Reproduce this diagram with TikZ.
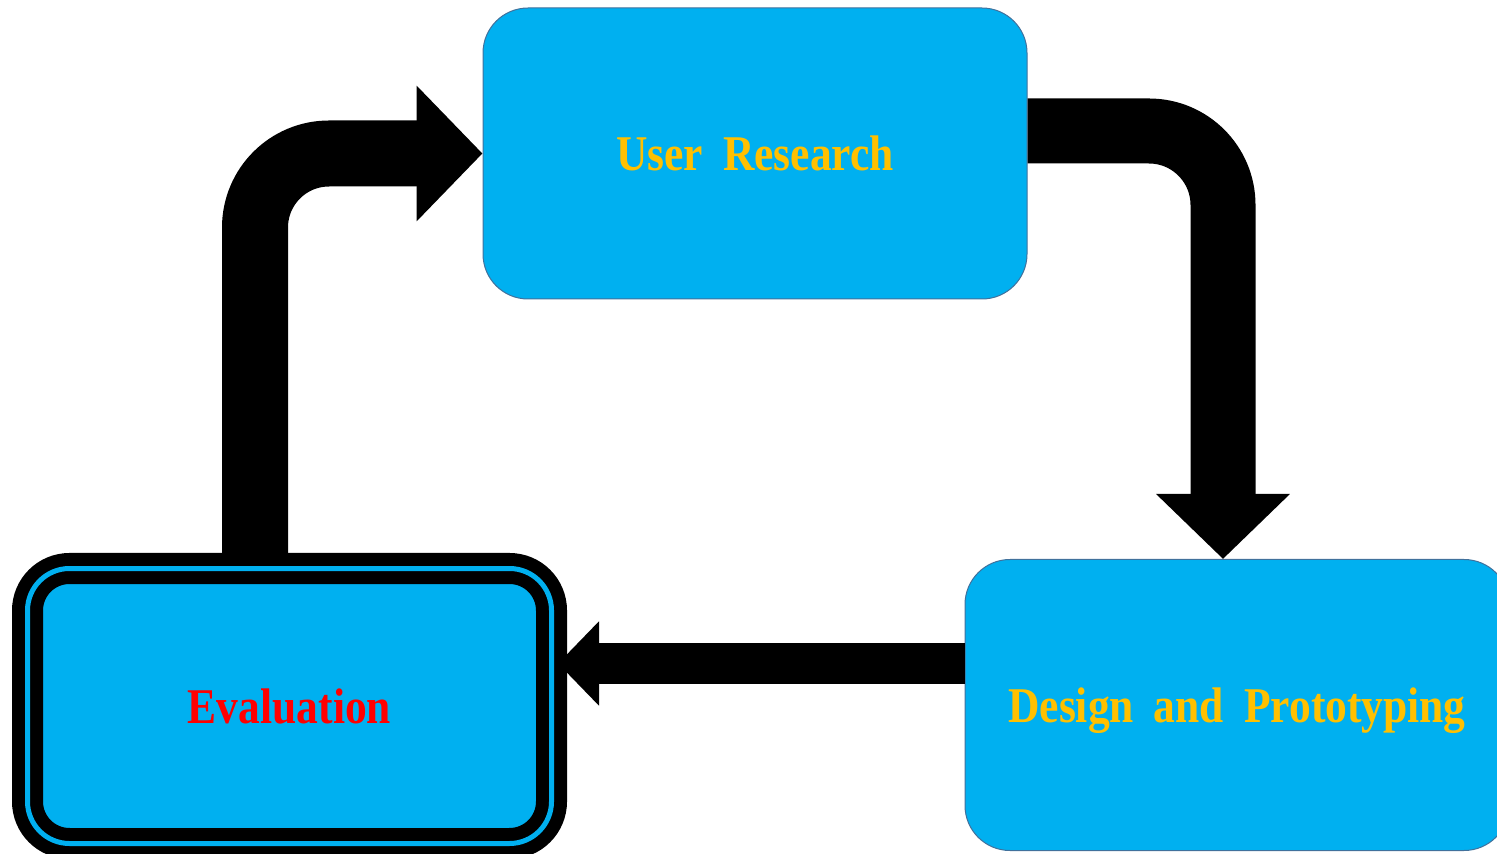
\documentclass[tikz,border=0pt]{standalone}
\usepackage{fontspec}
\setmainfont{Liberation Serif}[FakeStretch=0.87]
\usetikzlibrary{arrows.meta,positioning,calc}
\definecolor{boxblue}{HTML}{00B0F0}
\definecolor{rimblue}{HTML}{41719C}
\definecolor{labelgold}{HTML}{FFC000}
\newcommand{\gap}{\hspace{0.4em}}
\tikzset{%
	% Specifications for style of nodes:
	base/.style = {rectangle, rounded corners=22.5pt, draw=rimblue,
		line width=0.5pt, fill=boxblue,
		minimum width=272pt, minimum height=145.5pt,
		text centered, text depth=0pt,
		font=\bfseries\fontsize{25}{30}\selectfont},
	stage/.style = {base, text=labelgold},
	stageCurrent/.style = {base, rounded corners=21pt, draw=black,
		line width=6.5pt, double=boxblue, double distance=2.5pt,
		minimum width=262pt, minimum height=137.5pt, text=red},
	% Specifications for the block arrows between stages:
	blockarrow/.style = {draw=black, line width=#1, rounded corners=37pt,
		-{Triangle[width=0pt 2, length=0pt 1]}},
}

\begin{document}
\begin{tikzpicture}[x=0.5pt, y=-0.5pt]
\useasboundingbox (0,0) rectangle (1497,854);
\clip (0,0) rectangle (1497,854);

%% Specification of nodes (position, etc.)
\node (research)   [stage]        at (755,153.5) {User\gap Research};
\node (design)     [stage]        at (1237,705)  {Design\gap and\gap Prototyping};
\node (evaluation) [stageCurrent] at (289.5,706) {Evaluation};

%% helper coordinates for the arrow shafts
\coordinate (upx)   at (255,0);
\coordinate (downx) at (1223,0);
\coordinate (downy) at (0,131);
\coordinate (backy) at (0,663.5);

%% Specification of arrows between nodes specified above
\draw[blockarrow=33pt]   (evaluation.north -| upx) |- (research.west);
\draw[blockarrow=32.5pt] (research.east |- downy) -| (design.north -| downx);
\draw[blockarrow=20.5pt] (design.west |- backy) -- (evaluation.east |- backy);

\end{tikzpicture}
\end{document}
